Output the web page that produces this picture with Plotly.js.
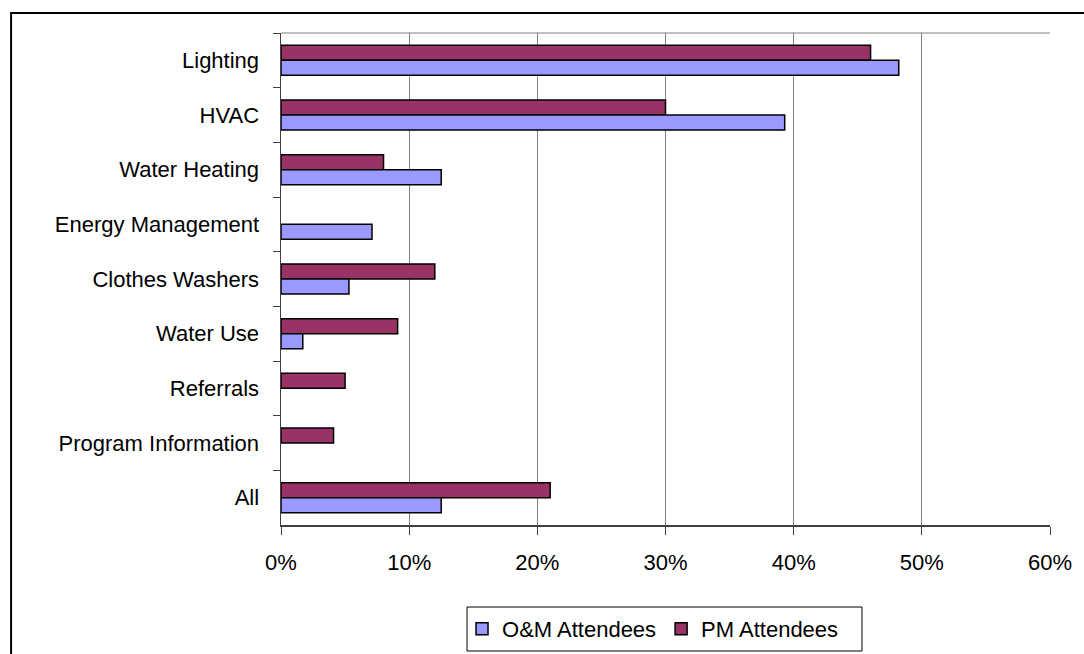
<!DOCTYPE html>
<html>
<head>
<meta charset="utf-8">
<script src="https://cdn.plot.ly/plotly-3.0.1.min.js"></script>
<style>
html,body{margin:0;padding:0;background:#fff;}
#chart{width:1084px;height:654px;}
</style>
</head>
<body>
<div id="chart"></div>
<script>
var categories = ["Lighting", "HVAC", "Water Heating", "Energy Management", "Clothes Washers", "Water Use", "Referrals", "Program Information", "All"];
var omAttendees = [0.482, 0.393, 0.125, 0.071, 0.053, 0.017, null, null, 0.125];
var pmAttendees = [0.46, 0.30, 0.08, null, 0.12, 0.091, 0.05, 0.041, 0.21];
var xTickVals = [0, 0.1, 0.2, 0.3, 0.4, 0.5, 0.6];
var xTickText = ["0%", "10%", "20%", "30%", "40%", "50%", "60%"];

var fontFam = "Liberation Sans, Arial, sans-serif";

var traces = [
  {
    type: "bar", orientation: "h", name: "PM Attendees",
    y: categories, x: pmAttendees,
    marker: {color: "#993366", line: {color: "#000000", width: 1.5}},
    hoverinfo: "x+y"
  },
  {
    type: "bar", orientation: "h", name: "O&M Attendees",
    y: categories, x: omAttendees,
    marker: {color: "#9999FF", line: {color: "#000000", width: 1.5}},
    hoverinfo: "x+y"
  }
];

var layout = {
  width: 1084, height: 654,
  margin: {l: 281, r: 34, t: 33, b: 129, pad: 0, autoexpand: false},
  paper_bgcolor: "#ffffff", plot_bgcolor: "#ffffff",
  font: {family: fontFam, size: 22, color: "#000000"},
  barmode: "group",
  bargap: 0.45, bargroupgap: 0,
  showlegend: true,
  legend: {
    orientation: "h", traceorder: "reversed",
    x: 0.2354, xanchor: "left", y: -0.2114, yanchor: "middle",
    bgcolor: "rgba(255,255,255,0)", borderwidth: 0,
    font: {family: fontFam, size: 22, color: "#000000"},
    itemwidth: 30
  },
  xaxis: {
    range: [0, 0.6], tickvals: xTickVals, ticktext: xTickText,
    showgrid: true, gridcolor: "#808080", gridwidth: 1,
    zeroline: false,
    showline: true, linecolor: "#404040", linewidth: 1.5,
    ticks: "outside", ticklen: 8, tickcolor: "#404040", tickwidth: 1,
    ticklabelstandoff: 9,
    tickfont: {family: fontFam, size: 22, color: "#000000"},
    automargin: false, fixedrange: true
  },
  yaxis: {
    type: "category", autorange: "reversed",
    showgrid: false, zeroline: false,
    showline: true, linecolor: "#404040", linewidth: 1.5,
    ticks: "outside", tickson: "boundaries", ticklen: 7, tickcolor: "#404040", tickwidth: 1,
    ticklabelstandoff: 16,
    tickfont: {family: fontFam, size: 22, color: "#000000"},
    automargin: false, fixedrange: true
  },
  shapes: [
    {type: "line", xref: "paper", yref: "paper", x0: 0, x1: 1, y0: 1, y1: 1,
     line: {color: "#808080", width: 1}, layer: "below"},
    {type: "rect", xref: "paper", yref: "paper", x0: -0.351, x1: 1.1, y0: -0.3, y1: 1.0407,
     line: {color: "#000000", width: 2}, fillcolor: "rgba(0,0,0,0)", layer: "above"},
    {type: "rect", xref: "paper", yref: "paper", x0: 0.2419, x1: 0.7555, y0: -0.2561, y1: -0.1667,
     line: {color: "#000000", width: 1}, fillcolor: "rgba(0,0,0,0)", layer: "above"}
  ]
};

Plotly.newPlot("chart", traces, layout, {staticPlot: true, displayModeBar: false});
</script>
</body>
</html>
